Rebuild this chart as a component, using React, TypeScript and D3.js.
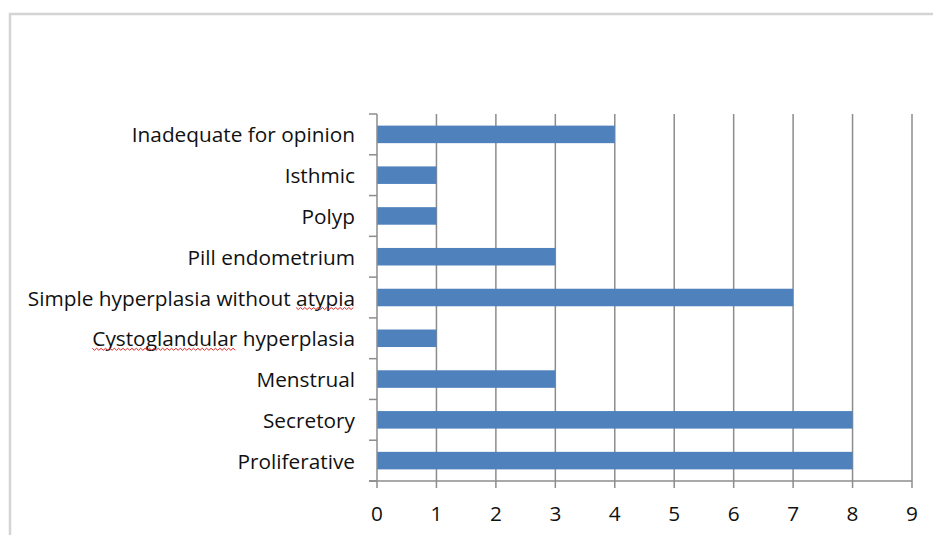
import React from "react";
import * as d3 from "d3";

// Endometrial histology findings, listed top to bottom
const categories: string[] = [
  "Inadequate for opinion",
  "Isthmic",
  "Polyp",
  "Pill endometrium",
  "Simple hyperplasia without atypia",
  "Cystoglandular hyperplasia",
  "Menstrual",
  "Secretory",
  "Proliferative",
];
const counts: number[] = [4, 1, 1, 3, 7, 1, 3, 8, 8];
const xTicks: number[] = [0, 1, 2, 3, 4, 5, 6, 7, 8, 9];
// words flagged by the spell checker in the category labels
const flaggedWords: Record<string, string> = {
  "Simple hyperplasia without atypia": "atypia",
  "Cystoglandular hyperplasia": "Cystoglandular",
};

const W = 933;
const H = 535;
const plot = { left: 377, right: 912, top: 114, bottom: 481 };
const FONT_FAMILY = "'Open Sans', sans-serif";
const FONT_SIZE = 20.8;
const BAR = "#4F81BD";
const GRID = "#8C8C8C";

let measureCtx: CanvasRenderingContext2D | null = null;
function textWidth(s: string): number {
  if (!measureCtx) {
    measureCtx = document.createElement("canvas").getContext("2d");
  }
  if (!measureCtx) return s.length * FONT_SIZE * 0.5;
  measureCtx.font = `${FONT_SIZE}px ${FONT_FAMILY}`;
  return measureCtx.measureText(s).width;
}

// zigzag squiggle from x0 to x1 at height y
function squiggle(x0: number, x1: number, y: number): string {
  const step = 2.2;
  const pts: [number, number][] = [];
  let k = 0;
  for (let xx = x0; xx <= x1; xx += step, k++) {
    pts.push([xx, y + (k % 2 === 0 ? 0 : 2)]);
  }
  return d3.line()(pts) ?? "";
}

function Label({ text, x, y }: { text: string; x: number; y: number }) {
  const flagged = flaggedWords[text];
  let mark: React.ReactNode = null;
  if (flagged) {
    const i = text.indexOf(flagged);
    const after = text.slice(i + flagged.length);
    const xEnd = x - textWidth(after);
    const xStart = xEnd - textWidth(flagged);
    mark = <path d={squiggle(xStart, xEnd, y + 10)} fill="none" stroke="#E02828" strokeWidth={1} />;
  }
  return (
    <g>
      <text x={x} y={y} textAnchor="end" dominantBaseline="central">
        {text}
      </text>
      {mark}
    </g>
  );
}

export default function App() {
  const x = d3.scaleLinear().domain([0, 9]).range([plot.left, plot.right]);
  const y = d3
    .scaleBand<string>()
    .domain(categories)
    .range([plot.top, plot.bottom])
    .paddingInner(0.57)
    .paddingOuter(0.285);
  const band = d3.scaleBand<string>().domain(categories).range([plot.top, plot.bottom]);
  const catBoundaries = categories.map((c) => band(c) as number).concat([plot.bottom]);

  return (
    <svg
      width={W}
      height={H}
      style={{ position: "absolute", left: 0, top: 0, background: "#fff" }}
      fontFamily={FONT_FAMILY}
    >
      {/* chart frame */}
      <path d={`M10,${H} V14 H${W}`} fill="none" stroke="#D4D4D4" strokeWidth={2.5} />

      {/* vertical gridlines */}
      {xTicks.slice(1).map((t) => (
        <line key={`g${t}`} x1={x(t)} x2={x(t)} y1={plot.top} y2={plot.bottom} stroke={GRID} strokeWidth={1.5} />
      ))}

      {/* bars */}
      {categories.map((c, i) => (
        <rect
          key={c}
          x={x(0)}
          y={y(c)}
          width={x(counts[i]) - x(0)}
          height={y.bandwidth()}
          fill={BAR}
        />
      ))}

      {/* category axis */}
      <line x1={plot.left} x2={plot.left} y1={plot.top} y2={plot.bottom} stroke={GRID} strokeWidth={1.5} />
      {catBoundaries.map((b, i) => (
        <line key={`ct${i}`} x1={plot.left - 8} x2={plot.left} y1={b} y2={b} stroke={GRID} strokeWidth={1.5} />
      ))}
      <g fontSize={FONT_SIZE} fill="#111">
        {categories.map((c) => (
          <Label key={c} text={c} x={plot.left - 22} y={(band(c) as number) + band.bandwidth() / 2} />
        ))}
      </g>

      {/* value axis */}
      <line x1={plot.left - 8} x2={plot.right} y1={plot.bottom} y2={plot.bottom} stroke={GRID} strokeWidth={1.5} />
      {xTicks.map((t) => (
        <g key={`xt${t}`}>
          <line x1={x(t)} x2={x(t)} y1={plot.bottom} y2={plot.bottom + 7} stroke={GRID} strokeWidth={1.5} />
          <text
            x={x(t)}
            y={plot.bottom + 32}
            textAnchor="middle"
            dominantBaseline="central"
            fontSize={FONT_SIZE}
            fill="#111"
          >
            {t}
          </text>
        </g>
      ))}
    </svg>
  );
}
